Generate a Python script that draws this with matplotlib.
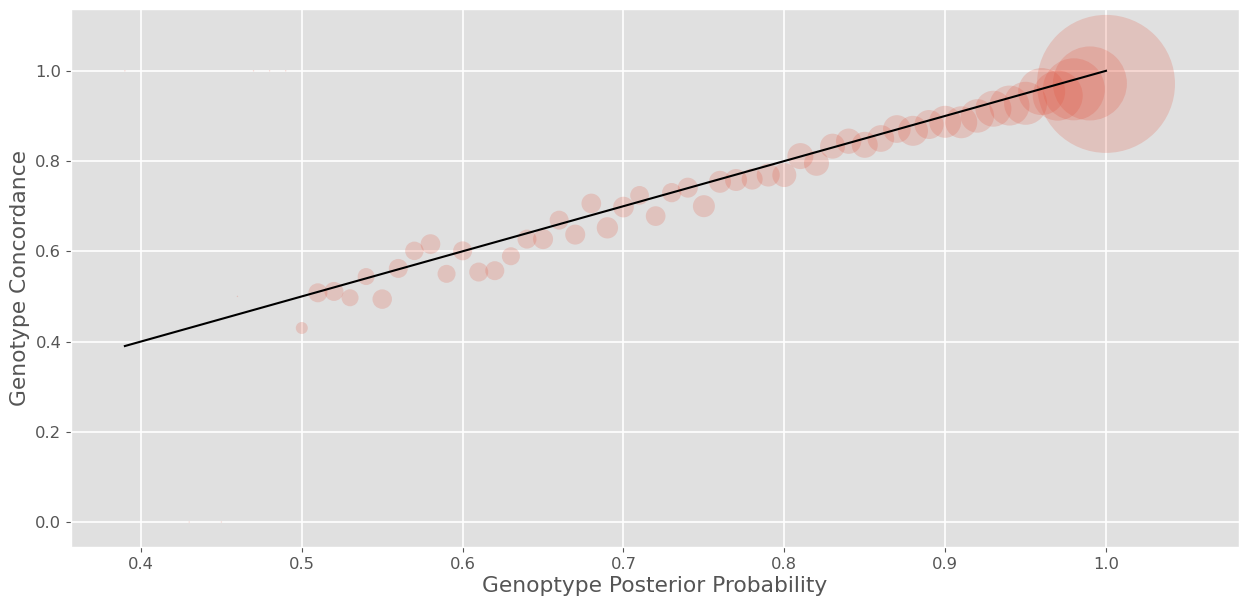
import matplotlib
matplotlib.use("Agg")
import matplotlib.pyplot as plt
import numpy as np

plt.style.use("ggplot")

# Posterior probability bins (x), genotype concordance (y), number of variants in bin (bubble size)
posterior = [0.39, 0.43, 0.45, 0.46, 0.47, 0.48, 0.49,
             0.50, 0.51, 0.52, 0.53, 0.54, 0.55, 0.56, 0.57, 0.58, 0.59,
             0.60, 0.61, 0.62, 0.63, 0.64, 0.65, 0.66, 0.67, 0.68, 0.69,
             0.70, 0.71, 0.72, 0.73, 0.74, 0.75, 0.76, 0.77, 0.78, 0.79,
             0.80, 0.81, 0.82, 0.83, 0.84, 0.85, 0.86, 0.87, 0.88, 0.89,
             0.90, 0.91, 0.92, 0.93, 0.94, 0.95, 0.96, 0.97, 0.98, 0.99, 1.00]
concordance = [1.0, 0.0, 0.0, 0.5, 1.0, 1.0, 1.0,
               0.430, 0.508, 0.511, 0.497, 0.544, 0.494, 0.562, 0.601, 0.616, 0.550,
               0.601, 0.554, 0.557, 0.589, 0.627, 0.627, 0.669, 0.637, 0.706, 0.652,
               0.698, 0.724, 0.678, 0.730, 0.741, 0.700, 0.754, 0.758, 0.760, 0.769,
               0.769, 0.811, 0.795, 0.833, 0.844, 0.836, 0.850, 0.871, 0.867, 0.881,
               0.887, 0.886, 0.900, 0.916, 0.923, 0.928, 0.954, 0.945, 0.959, 0.972, 0.971]
n_variants = [2, 2, 2, 2, 2, 2, 2,
              144, 361, 361, 289, 289, 380, 361, 342, 388, 324,
              361, 361, 361, 324, 361, 400, 361, 400, 388, 454,
              428, 350, 388, 372, 400, 484, 484, 484, 441, 529,
              576, 676, 625, 625, 640, 676, 713, 767, 900, 841,
              1024, 1024, 1122, 1296, 1600, 1849, 2209, 2500, 3844, 5476, 19044]

x_ticks = [0.4, 0.5, 0.6, 0.7, 0.8, 0.9, 1.0]
y_ticks = [0.0, 0.2, 0.4, 0.6, 0.8, 1.0]

fig = plt.figure(figsize=(12.39, 5.99), dpi=100)
ax = fig.add_axes([71 / 1239, 1 - 547 / 599, 1 - 71 / 1239, (547 - 9) / 599])
ax.set_facecolor("#E0E0E0")

sizes = np.array(n_variants) * 0.5184
ax.scatter(posterior, concordance, s=sizes, color="#E24A33", alpha=0.2, linewidths=0, zorder=2)
lo, hi = min(posterior), max(posterior)
ax.plot([lo, hi], [lo, hi], color="black", linewidth=1.5, zorder=3)

ax.set_xlim(0.3565, 1.0827)
ax.set_ylim(-0.0554, 1.137)
ax.set_xticks(x_ticks)
ax.set_yticks(y_ticks)
ax.grid(True, color="white", linewidth=1.2)
ax.tick_params(labelsize=11.8, colors="#555555")
ax.set_xlabel("Genoptype Posterior Probability", fontsize=15.7, color="#555555", labelpad=3)
ax.set_ylabel("Genotype Concordance", fontsize=15.7, color="#555555")
ax.set_title("Genotype Concordance by Posterior Probability", fontsize=15.9, pad=9.5)

fig.savefig("out.png", dpi=100)
